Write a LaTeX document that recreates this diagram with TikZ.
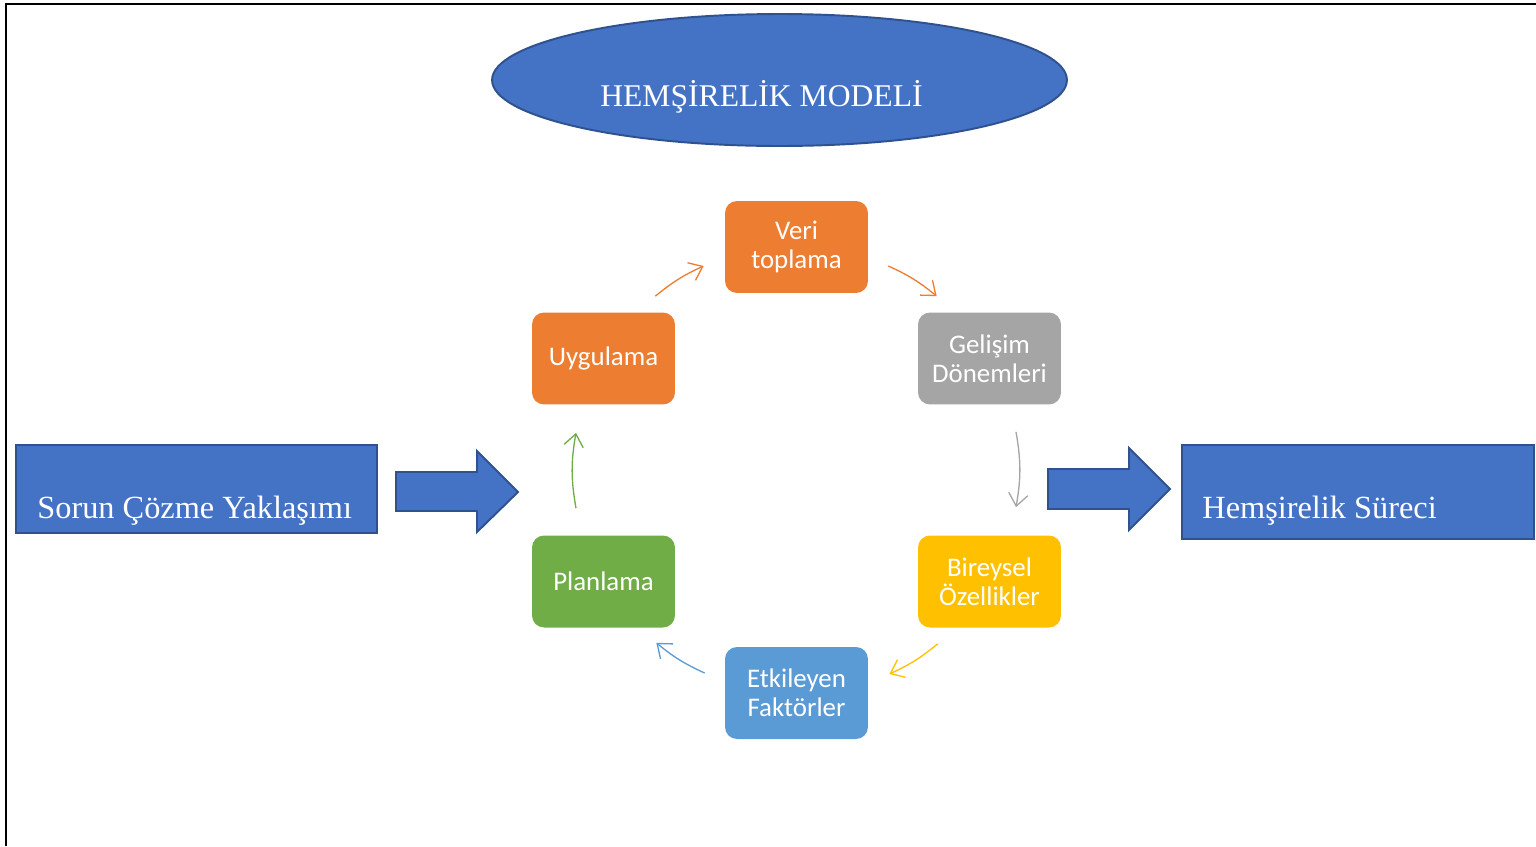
\documentclass[tikz,border=0pt]{standalone}
\usepackage{fontspec}
\setmainfont{Liberation Serif}
\newfontfamily\calibfont{Carlito}
\usetikzlibrary{positioning, shapes.geometric, arrows.meta}

\begin{document}
\begin{tikzpicture}[
    x=0.02cm, y=-0.02cm, % 1 Einheit = 1 Pixel, y nach unten
    >={Straight Barb[length=7pt,width=11pt]},
    % --- Farben ---
    blueFill/.style={fill={rgb,255:red,68;green,114;blue,196}, draw={rgb,255:red,47;green,82;blue,143}, line width=1.1pt},
    oraFill/.style={fill={rgb,255:red,237;green,125;blue,49}},
    grayFill/.style={fill={rgb,255:red,165;green,165;blue,165}},
    yelFill/.style={fill={rgb,255:red,255;green,192;blue,0}},
    skyFill/.style={fill={rgb,255:red,91;green,155;blue,213}},
    grnFill/.style={fill={rgb,255:red,112;green,173;blue,71}},
    % --- Node-Stile ---
    cycBox/.style={rounded corners=0.24cm, minimum width=2.86cm, minimum height=1.84cm, inner sep=0pt, align=center, text=white, font=\calibfont\fontsize{15.3}{16.6}\selectfont},
    sideBox/.style={blueFill, inner sep=0pt},
    bigText/.style={text=white, inner sep=0pt, font=\fontsize{18}{20}\selectfont},
    sideText/.style={bigText, anchor=base west, font=\fontsize{18.4}{20}\selectfont},
    blockArrow/.style={blueFill, line width=1.1pt},
    % --- Linienstile ---
    cycEdge/.style={->, line width=0.75pt, bend left=#1},
    cycEdge/.default=7.5
]

    \useasboundingbox (0,0) rectangle (1536,846);

    % Rahmen (nur oben und links)
    \draw[line width=1.7pt] (6,846) -- (6,4) -- (1536,4);

    % ===========================
    % 1. TITEL
    % ===========================
    \node[blueFill, ellipse, minimum width=11.5cm, minimum height=2.64cm, inner sep=0pt] (model) at (779.5, 80) {};
    \node[bigText, anchor=base] (modelText) at ([shift={(-18,26)}]model.center) {HEMŞİRELİK MODELİ};

    % ===========================
    % 2. SEITENBOXEN UND BLOCKPFEILE
    % ===========================
    \node[sideBox, minimum width=7.22cm, minimum height=1.76cm] (sorun) at (196.5, 489) {};
    \node[sideText] (sorunText) at ([shift={(22,29)}]sorun.west) {Sorun Çözme Yaklaşımı};

    \node[sideBox, minimum width=7.04cm, minimum height=1.88cm] (surec) at (1358, 492) {};
    \node[sideText] (surecText) at ([shift={(21,26)}]surec.west) {Hemşirelik Süreci};

    \draw[blockArrow] (396,472) -- (477,472) -- (477,451) -- (518,492) -- (477,532) -- (477,511) -- (396,511) -- cycle;
    \draw[blockArrow] (1048,469) -- (1129,469) -- (1129,448) -- (1170,489) -- (1129,530) -- (1129,509) -- (1048,509) -- cycle;

    % ===========================
    % 3. ZYKLUS
    % ===========================
    \node[cycBox, oraFill]  (veri) at (796.5, 247)   {Veri\\toplama};
    \node[cycBox, grayFill] (gel)  at (989.5, 358.5) {Gelişim\\Dönemleri};
    \node[cycBox, yelFill]  (bir)  at (989.5, 581.5) {Bireysel\\Özellikler};
    \node[cycBox, skyFill]  (etk)  at (796.5, 693)   {Etkileyen\\Faktörler};
    \node[cycBox, grnFill]  (plan) at (603.5, 581.5) {Planlama};
    \node[cycBox, oraFill]  (ug)   at (603.5, 358.5) {\raisebox{-2pt}{Uygulama}};

    % Pfeile im Uhrzeigersinn
    \draw[cycEdge, draw={rgb,255:red,237;green,125;blue,49}] ([shift={(-20,-16)}]ug.north east) to ([shift={(-21,19)}]veri.west);
    \draw[cycEdge, draw={rgb,255:red,237;green,125;blue,49}] ([shift={(20,19)}]veri.east) to ([shift={(19,-16)}]gel.north west);
    \draw[cycEdge=10, draw={rgb,255:red,165;green,165;blue,165}] ([shift={(26.5,27)}]gel.south) to ([shift={(26.5,-28)}]bir.north);
    \draw[cycEdge, draw={rgb,255:red,255;green,192;blue,0}] ([shift={(20,16)}]bir.south west) to ([shift={(21,-19)}]etk.east);
    \draw[cycEdge, draw={rgb,255:red,91;green,155;blue,213}] ([shift={(-20,-20)}]etk.west) to ([shift={(-19,15)}]plan.south east);
    \draw[cycEdge=10, draw={rgb,255:red,112;green,173;blue,71}] ([shift={(-27.5,-27)}]plan.north) to ([shift={(-27.5,28)}]ug.south);

\end{tikzpicture}
\end{document}
